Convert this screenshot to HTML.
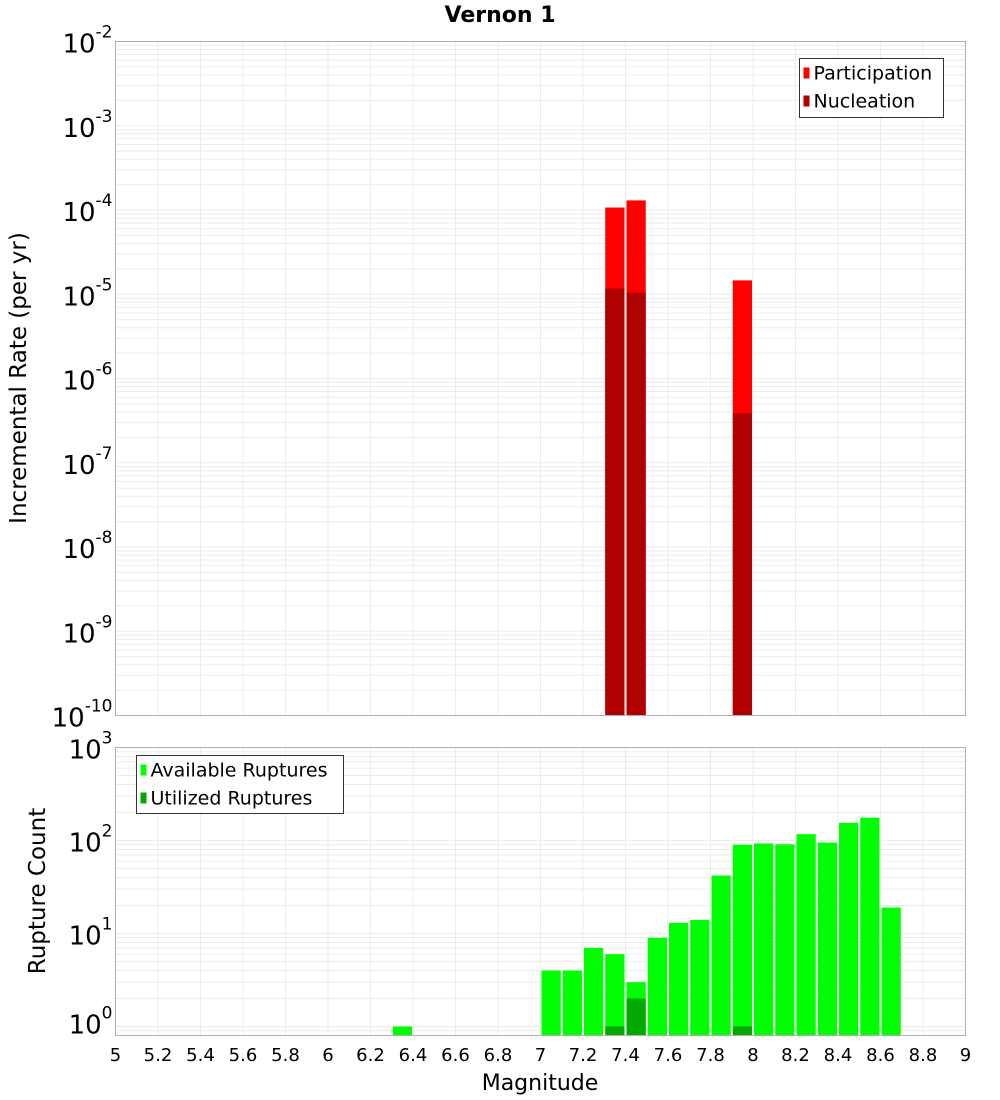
<!DOCTYPE html>
<html><head><meta charset="utf-8"><style>
body{margin:0;background:#fff;}
svg{display:block;font-family:"DejaVu Sans","Liberation Sans",sans-serif;}
</style></head><body>
<svg id="c" width="1000" height="1100" xmlns="http://www.w3.org/2000/svg"></svg>
<script>
const mags = [5.0,5.1,5.2,5.3,5.4,5.5,5.6,5.7,5.8,5.9,6.0,6.1,6.2,6.3,6.4,6.5,6.6,6.7,6.8,6.9,7.0,7.1,7.2,7.3,7.4,7.5,7.6,7.7,7.8,7.9,8.0,8.1,8.2,8.3,8.4,8.5,8.6,8.7,8.8,8.9];
const partMags = [7.3, 7.4, 7.9];
const partRates = [1.07e-4, 1.3e-4, 1.46e-5];
const nuclRates = [1.17e-5, 1.05e-5, 3.85e-7];
const availMags = [6.3,7.0,7.1,7.2,7.3,7.4,7.5,7.6,7.7,7.8,7.9,8.0,8.1,8.2,8.3,8.4,8.5,8.6];
const availCounts = [1,4,4,7,6,3,9,13,14,42,90,93,91,117,95,155,176,19];
const utilMags = [7.3,7.4,7.9];
const utilCounts = [1,2,1];
const xTicks = [5,5.2,5.4,5.6,5.8,6,6.2,6.4,6.6,6.8,7,7.2,7.4,7.6,7.8,8,8.2,8.4,8.6,8.8,9];
const topExps = [-10,-9,-8,-7,-6,-5,-4,-3,-2];
const botExps = [0,1,2,3];

const svg=document.getElementById('c');
const NS='http://www.w3.org/2000/svg';
function el(tag,attrs,parent){const e=document.createElementNS(NS,tag);for(const k in attrs)e.setAttribute(k,attrs[k]);(parent||svg).appendChild(e);return e;}
const L=115.5,R=965.5;
const x=m=>L+(m-5)/4*(R-L);
const T1=41.5,B1=715.5;
const y1=v=>T1+(-2-Math.log10(v))/8*(B1-T1);
const T2=747.5,B2=1035.5;
const y2=v=>T2+(3-Math.log10(v))*93;

function panel(T,B,yf,expLo,expHi,name){
  const g=el('g',{});
  
  
  for(let e=expLo;e<=expHi;e++){for(let k=1;k<10;k++){const v=k*Math.pow(10,e);const yy=yf(v);if(yy<T-0.1||yy>B+0.1)continue;el('line',{x1:L,x2:R,y1:yy,y2:yy,stroke:'#ebebeb','stroke-width':1},g);}}
  xTicks.forEach(t=>{el('line',{x1:x(t),x2:x(t),y1:T,y2:B,stroke:'#ebebeb','stroke-width':1},g);});
}
panel(T1,B1,y1,-10,-2,'top');
panel(T2,B2,y2,-1,3,'bottom');

partMags.forEach((m,i)=>{
  const r=el('rect',{x:x(m)+1,y:y1(partRates[i]),width:x(m+0.1)-x(m)-2,height:B1-y1(partRates[i]),fill:'#ff0000'});
  
  
  const n=el('rect',{x:x(m)+1,y:y1(nuclRates[i]),width:x(m+0.1)-x(m)-2,height:B1-y1(nuclRates[i]),fill:'#b00000'});
  
  
});
availMags.forEach((m,i)=>{
  const r=el('rect',{x:x(m)+1,y:y2(availCounts[i]),width:x(m+0.1)-x(m)-2,height:B2-y2(availCounts[i]),fill:'#00ff00'});
  
  
});
utilMags.forEach((m,i)=>{
  const r=el('rect',{x:x(m)+1,y:y2(utilCounts[i]),width:x(m+0.1)-x(m)-2,height:B2-y2(utilCounts[i]),fill:'#00aa00'});
  
  
});

[[T1,B1],[T2,B2]].forEach(([T,B])=>{
  const f=el('rect',{x:L,y:T,width:R-L,height:B-T,fill:'none',stroke:'#b0b0b0','stroke-width':1});
  
  
});

function expLabel(e,yy,name){
  const t=el('text',{x:L-3,y:yy+11,'text-anchor':'end','font-size':26,fill:'#000'});
  
  
  t.textContent='10';
  const s=el('tspan',{dy:-15,'font-size':17});
  s.textContent=String(e);
  t.appendChild(s);
}
topExps.forEach(e=>expLabel(e,y1(Math.pow(10,e)),'y-tick-label'));
botExps.forEach(e=>expLabel(e,e===0?y2(1)-4:y2(Math.pow(10,e)),'y2-tick-label'));

xTicks.forEach(t=>{
  const tx=el('text',{x:x(t),y:1061,'text-anchor':'middle','font-size':18,fill:'#000'});
  
  
  tx.textContent=String(t);
});

function txt(s,attrs,name){const t=el('text',attrs);t.textContent=s;return t;}
txt('Vernon 1',{x:500,y:22,'text-anchor':'middle','font-size':22,'font-weight':'bold'},'chart-title');
txt('Magnitude',{x:540,y:1090,'text-anchor':'middle','font-size':22},'x-axis-title');
txt('Incremental Rate (per yr)',{x:0,y:0,'text-anchor':'middle','font-size':23,transform:'translate(26,378) rotate(-90)'},'y-axis-title');
txt('Rupture Count',{x:0,y:0,'text-anchor':'middle','font-size':23,transform:'translate(45,891) rotate(-90)'},'y2-axis-title');

function legend(bx,by,w,h,items,name){
  const g=el('g',{});
  
  
  el('rect',{x:bx,y:by,width:w,height:h,fill:'#fff',stroke:'#333','stroke-width':1},g);
  items.forEach((it,i)=>{
    el('rect',{x:bx+4,y:by+9+i*28,width:6,height:11,fill:it[1]},g);
    const t=el('text',{x:bx+14,y:by+21+i*28,'font-size':19},g);
    t.textContent=it[0];
  });
}
legend(799.5,58.5,144,59,[['Participation','#ff0000'],['Nucleation','#b00000']],'top-legend');
legend(136.5,755.5,207,58,[['Available Ruptures','#00ff00'],['Utilized Ruptures','#00aa00']],'bottom-legend');
</script>
</body></html>
